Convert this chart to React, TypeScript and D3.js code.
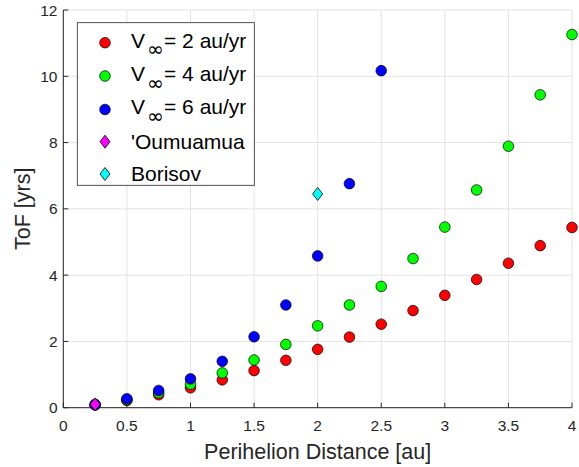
import React, { useEffect } from 'react';
import * as d3 from 'd3';

// perihelion distances [au]
const distances = [0.25, 0.5, 0.75, 1, 1.25, 1.5, 1.75, 2, 2.25, 2.5, 2.75, 3, 3.25, 3.5, 3.75, 4];

// time of flight [yrs]
const tofV2 = [0.08, 0.22, 0.39, 0.6, 0.84, 1.12, 1.43, 1.76, 2.13, 2.52, 2.93, 3.39, 3.87, 4.36, 4.89, 5.44];
const tofV4 = [0.09, 0.24, 0.45, 0.71, 1.05, 1.44, 1.91, 2.47, 3.1, 3.66, 4.5, 5.45, 6.57, 7.89, 9.44, 11.26];
const tofV6 = [0.1, 0.27, 0.52, 0.87, 1.4, 2.14, 3.1, 4.58, 6.76, 10.17];

const oumuamua = { q: 0.25, tof: 0.1 };
const borisov = { q: 2, tof: 6.45 };

const xTicks = [0, 0.5, 1, 1.5, 2, 2.5, 3, 3.5, 4];
const yTicks = [0, 2, 4, 6, 8, 10, 12];

const series = [
  { v: 2, color: '#ff0000', values: tofV2 },
  { v: 4, color: '#00ff00', values: tofV4 },
  { v: 6, color: '#0000ff', values: tofV6 },
];

const W = 579;
const H = 467;
const axisColor = '#262626';
const gridColor = '#e3e3e3';
const font = '"Liberation Sans", Arial, sans-serif';

const diamond = (cx: number, cy: number) =>
  `M${cx},${cy - 6.5}L${cx + 5},${cy}L${cx},${cy + 6.5}L${cx - 5},${cy}Z`;

const App = () => {
  useEffect(() => {
    document.body.style.margin = '0';
  }, []);

  const x = d3.scaleLinear().domain([0, 4]).range([63.3, 572]);
  const y = d3.scaleLinear().domain([0, 12]).range([407.7, 10]);
  const [x0, x1] = x.range();
  const [y0, y1] = y.range();

  // legend layout
  const lg = { x: 77.3, y: 22.7, w: 177, h: 162.6 };
  const rowY = [42.7, 76, 109.5, 141.7, 174];
  const markX = 105;
  const textX = 131;

  return (
    <svg width={W} height={H} style={{ display: 'block', fontFamily: font }}>
      <rect width={W} height={H} fill="#fff" />

      {/* grid */}
      {xTicks.map(t => (
        <line key={'gx' + t} x1={x(t)} x2={x(t)} y1={y0} y2={y1} stroke={gridColor} strokeWidth={1} />
      ))}
      {yTicks.map(t => (
        <line key={'gy' + t} x1={x0} x2={x1} y1={y(t)} y2={y(t)} stroke={gridColor} strokeWidth={1} />
      ))}

      {/* axes */}
      <line x1={x0} x2={x0} y1={y0} y2={y1} stroke={axisColor} strokeWidth={1} />
      <line x1={x0} x2={x1} y1={y0} y2={y0} stroke={axisColor} strokeWidth={1} />
      {xTicks.map(t => (
        <g key={'tx' + t}>
          <line x1={x(t)} x2={x(t)} y1={y0} y2={y0 - 5} stroke={axisColor} />
          <text x={x(t)} y={431} textAnchor="middle" fontSize={15.5} fill={axisColor}>
            {t}
          </text>
        </g>
      ))}
      {yTicks.map(t => (
        <g key={'ty' + t}>
          <line x1={x0} x2={x0 + 5} y1={y(t)} y2={y(t)} stroke={axisColor} />
          <text x={57.5} y={y(t) + 5.5} textAnchor="end" fontSize={15.5} fill={axisColor}>
            {t}
          </text>
        </g>
      ))}

      <text x={(x0 + x1) / 2} y={459} textAnchor="middle" fontSize={21.5} fill={axisColor}>
        Perihelion Distance [au]
      </text>
      <text
        transform={`translate(30,${(y0 + y1) / 2}) rotate(-90)`}
        textAnchor="middle"
        fontSize={21.5}
        fill={axisColor}
      >
        ToF [yrs]
      </text>

      {/* data */}
      {series.map(s => (
        <g key={'s' + s.v}>
          {s.values.map((v, i) => (
            <circle key={i} cx={x(distances[i])} cy={y(v)} r={5.3} fill={s.color} stroke="#000" strokeWidth={0.7} />
          ))}
        </g>
      ))}
      <path d={diamond(x(oumuamua.q), y(oumuamua.tof))} fill="#ff00ff" stroke="#000" strokeWidth={0.8} />
      <path d={diamond(x(borisov.q), y(borisov.tof))} fill="#00ffff" stroke="#000" strokeWidth={0.8} />

      {/* legend */}
      <rect x={lg.x} y={lg.y} width={lg.w} height={lg.h} fill="#fff" stroke={axisColor} strokeWidth={0.8} />
      {series.map((s, i) => (
        <g key={'l' + s.v}>
          <circle cx={markX} cy={rowY[i]} r={5.3} fill={s.color} stroke="#000" strokeWidth={0.7} />
          <text x={textX} y={rowY[i] + 4.8} fontSize={21} fill="#000">
            V
          </text>
          <text x={textX + 16} y={rowY[i] + 13.5} fontSize={20} fill="#000" fontFamily='"DejaVu Sans", sans-serif'>
            ∞
          </text>
          <text x={textX + 33} y={rowY[i] + 4.8} fontSize={21} fill="#000">
            = {s.v} au/yr
          </text>
        </g>
      ))}
      <path d={diamond(markX, rowY[3])} fill="#ff00ff" stroke="#000" strokeWidth={0.8} />
      <text x={textX} y={rowY[3] + 7.3} fontSize={21} fill="#000">'Oumuamua</text>
      <path d={diamond(markX, rowY[4])} fill="#00ffff" stroke="#000" strokeWidth={0.8} />
      <text x={textX} y={rowY[4] + 6.5} fontSize={21} fill="#000">Borisov</text>
    </svg>
  );
};

export default App;
